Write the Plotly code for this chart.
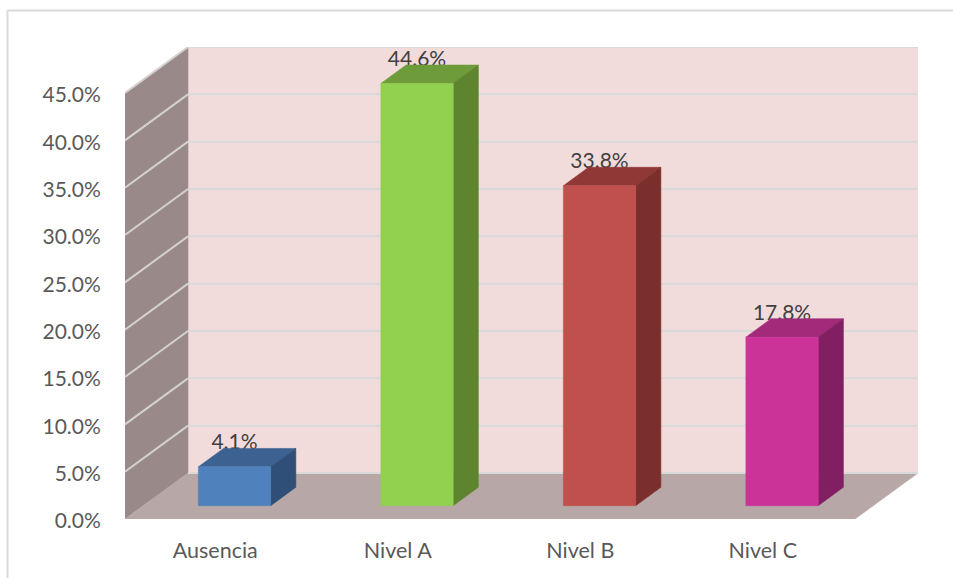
import plotly.graph_objects as go

categories = ["Ausencia", "Nivel A", "Nivel B", "Nivel C"]
values = [4.1, 44.6, 33.8, 17.8]
labels = ["4.1%", "44.6%", "33.8%", "17.8%"]
grid_values = [0, 5, 10, 15, 20, 25, 30, 35, 40, 45]
front_colors = ["#4F81BD", "#92D050", "#C0504D", "#CC3399"]
top_colors = ["#3C6291", "#6E9C3A", "#8F3836", "#A3297A"]
side_colors = ["#2F4F78", "#5E8430", "#7A2F2D", "#821F62"]

DEPTH_X, DEPTH_Y = 0.345, 4.86
BAR_HALF, BAR_D0, BAR_D1 = 0.198, 0.29, 0.69
N = len(categories)
Y_MAX = grid_values[-1]

def P(x, v, d):
    return x + d * DEPTH_X, v + d * DEPTH_Y

fig = go.Figure()

def poly(points, color):
    xs, ys = zip(*[P(*p) for p in points + points[:1]])
    fig.add_trace(go.Scatter(x=xs, y=ys, mode="lines", fill="toself", fillcolor=color,
                             line=dict(color=color, width=0.6), hoverinfo="skip",
                             showlegend=False, cliponaxis=False))

def seg(a, b, color, width):
    xs, ys = zip(P(*a), P(*b))
    fig.add_trace(go.Scatter(x=xs, y=ys, mode="lines", line=dict(color=color, width=width),
                             hoverinfo="skip", showlegend=False, cliponaxis=False))

# walls and floor
poly([(0, 0, 1), (N, 0, 1), (N, Y_MAX, 1), (0, Y_MAX, 1)], "#F2DCDB")
poly([(0, 0, 0), (0, 0, 1), (0, Y_MAX, 1), (0, Y_MAX, 0)], "#998A89")
poly([(0, 0, 0), (N, 0, 0), (N, 0, 1), (0, 0, 1)], "#B7A7A6")

# gridlines
for g in grid_values:
    if g > 0:
        seg((0, g, 0), (0, g, 1), "#D4D0D0", 2)
    seg((0, g, 1), (N, g, 1), "#D9D9D9", 2)

# data labels sit behind the bars
fig.add_trace(go.Scatter(x=[i + 0.5 + BAR_D0 * DEPTH_X for i in range(N)],
                         y=[v + 3.8 for v in values], mode="text", text=labels,
                         textposition="middle center",
                         textfont=dict(family="Lato", size=21, color="#404040"),
                         hoverinfo="skip", showlegend=False, cliponaxis=False))

# bars
for i, v in enumerate(values):
    L, R = i + 0.5 - BAR_HALF, i + 0.5 + BAR_HALF
    poly([(L, v, BAR_D0), (R, v, BAR_D0), (R, v, BAR_D1), (L, v, BAR_D1)], top_colors[i])
    poly([(R, 0, BAR_D0), (R, 0, BAR_D1), (R, v, BAR_D1), (R, v, BAR_D0)], side_colors[i])
    poly([(L, 0, BAR_D0), (R, 0, BAR_D0), (R, v, BAR_D0), (L, v, BAR_D0)], front_colors[i])

fig.update_layout(
    width=953, height=578, paper_bgcolor="white", plot_bgcolor="rgba(0,0,0,0)",
    margin=dict(l=125, r=35, t=47, b=59), showlegend=False,
    font=dict(family="Lato", size=21, color="#595959"),
    xaxis=dict(range=[0, N + DEPTH_X], showgrid=False, zeroline=False, showline=False,
               tickmode="array", tickvals=[i + 0.5 for i in range(N)], ticktext=categories,
               ticks="outside", ticklen=12, tickcolor="rgba(0,0,0,0)", fixedrange=True,
               tickfont=dict(size=21.5), ticklabelshift=-1),
    yaxis=dict(range=[0, Y_MAX + DEPTH_Y], showgrid=False, zeroline=False, showline=False,
               tickmode="array", tickvals=grid_values,
               ticktext=[f"{g:.1f}%" for g in grid_values],
               ticks="outside", ticklen=19, tickcolor="rgba(0,0,0,0)", fixedrange=True,
               ticklabelshift=2),
    shapes=[
        dict(type="line", xref="paper", yref="paper", x0=(7.5 - 125) / 793, x1=(953 - 125) / 793,
             y0=(578 - 59 - 10.5) / 472, y1=(578 - 59 - 10.5) / 472,
             line=dict(color="#D9D9D9", width=2)),
        dict(type="line", xref="paper", yref="paper", x0=(7.5 - 125) / 793, x1=(7.5 - 125) / 793,
             y0=-59 / 472, y1=(578 - 59 - 10.5) / 472,
             line=dict(color="#D9D9D9", width=2)),
    ],
)

fig.write_html("out.html", config={"displayModeBar": False},
               post_script="document.body.style.margin='0';document.body.style.overflow='hidden';")
